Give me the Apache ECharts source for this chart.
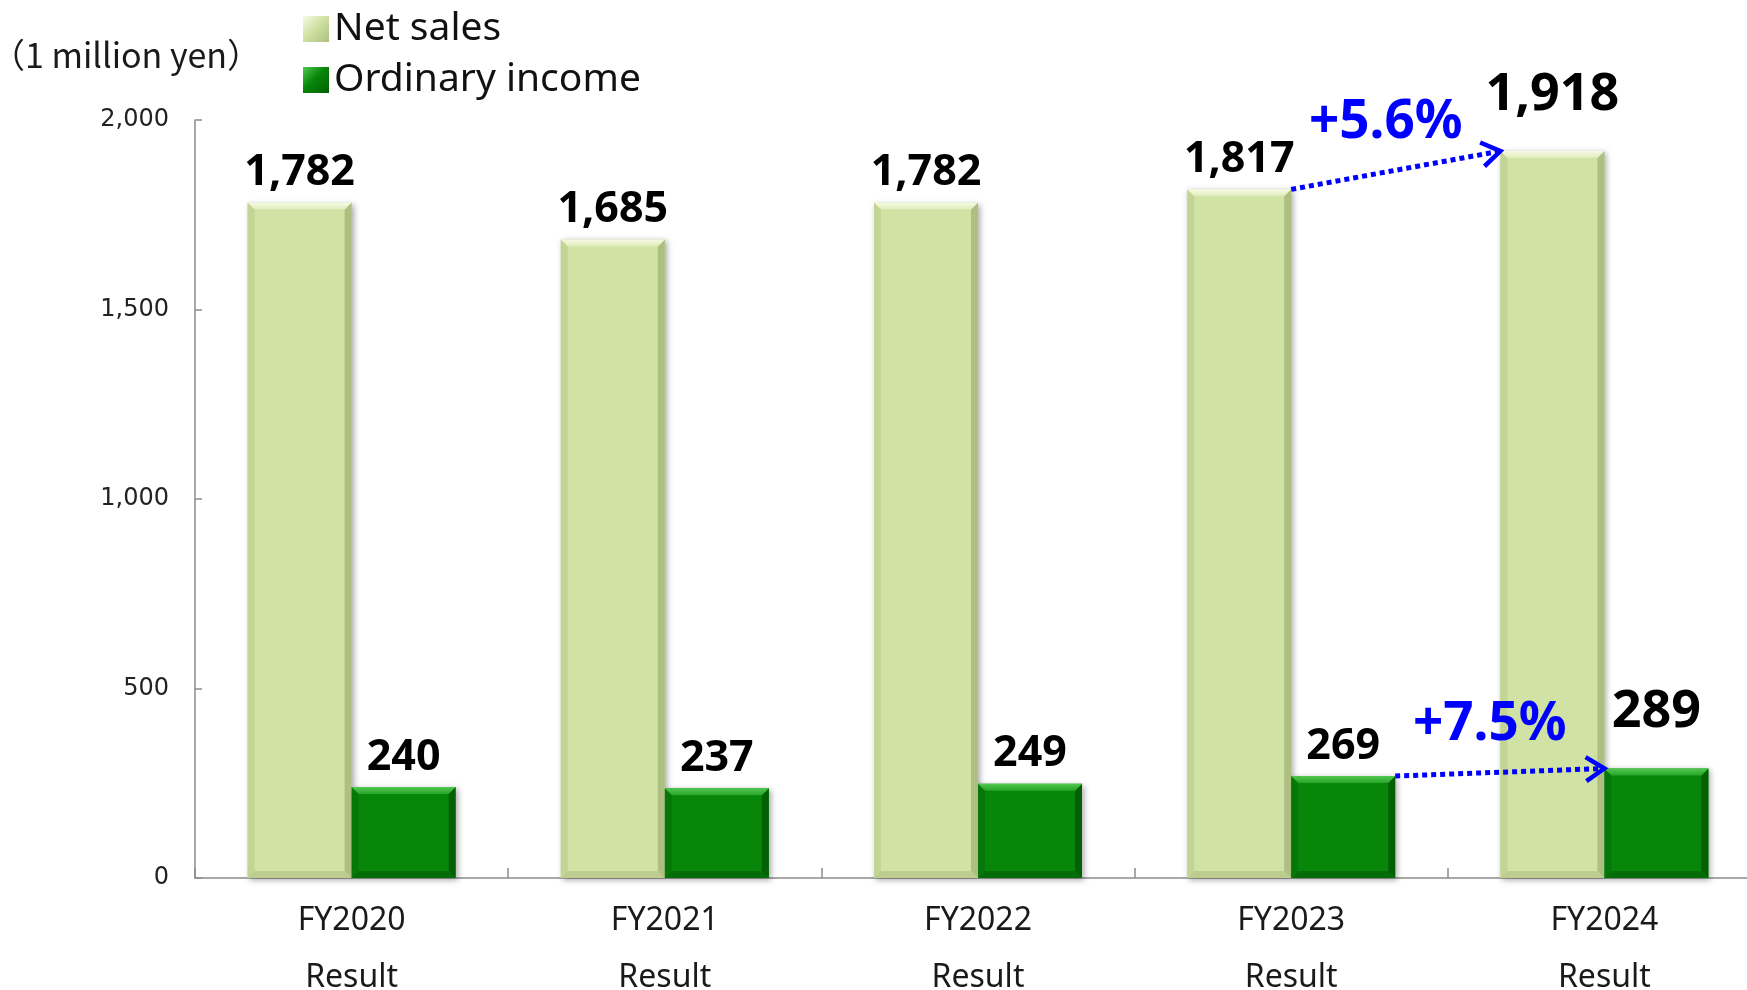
<!DOCTYPE html>
<html>
<head>
<meta charset="utf-8">
<script src="https://cdn.jsdelivr.net/npm/echarts@6/dist/echarts.min.js"></script>
<style>
html,body{margin:0;padding:0;background:#ffffff;}
#chart{width:1747px;height:990px;}
</style>
</head>
<body>
<div id="chart"></div>
<script>
// ---- data ----
const categories = ['FY2020', 'FY2021', 'FY2022', 'FY2023', 'FY2024'];
const categorySubLabel = 'Result';
const netSales = [1782, 1685, 1782, 1817, 1918];
const ordinaryIncome = [240, 237, 249, 269, 289];
const seriesNames = ['Net sales', 'Ordinary income'];
const unitLabel = '（1 million yen）';
const yMin = 0, yMax = 2000, yInterval = 500;
const emphasizedIndex = 4;
const growthFrom = [3, 3];
const growthTo = [4, 4];
const growthSeries = [0, 1];          // 0 = Net sales, 1 = Ordinary income
const growthText = ['+5.6%', '+7.5%'];

// ---- style ----
const BAR_RATIO = 0.332;
const FONT = '"Noto Sans", sans-serif';
const LIGHT = { main: '#d1e2a5', top0: '#f6fae6', top1: '#dfecb8', left: '#c2d595', right: '#aebf82', bottom: '#bccd8f' };
const DARK = { main: '#07860a', top0: '#52c852', top1: '#27a527', left: '#06780a', right: '#046004', bottom: '#056d07' };
const BLUE = '#0000ff';

const chart = echarts.init(document.getElementById('chart'), null, { renderer: 'canvas' });

function labelFor(i) {
  return i === emphasizedIndex
    ? { fontSize: 52, lineHeight: 52, distance: 30 }
    : { fontSize: 43, lineHeight: 43, distance: 8 };
}

const salesData = netSales.map((v, i) => ({ value: v, label: labelFor(i) }));
const incomeData = ordinaryIncome.map((v, i) => ({ value: v, label: labelFor(i) }));
const bevelData = categories.map((c, i) => [i, netSales[i], ordinaryIncome[i]]);
const growthData = growthText.map((t, k) => {
  const src = growthSeries[k] === 0 ? netSales : ordinaryIncome;
  return [growthFrom[k], src[growthFrom[k]], growthTo[k], src[growthTo[k]], growthSeries[k]];
});

function poly(points, fill) {
  return { type: 'polygon', shape: { points: points }, style: { fill: fill }, silent: true };
}

function renderBevel(params, api) {
  const idx = api.value(0);
  const base = api.coord([idx, 0]);
  const bw = api.size([1, 0])[0] * BAR_RATIO;
  const cx = base[0], yb = base[1];
  const children = [];
  const bars = [[api.value(1), cx - bw, LIGHT], [api.value(2), cx, DARK]];
  bars.forEach(function (b) {
    const yt = api.coord([idx, b[0]])[1];
    const x0 = b[1], x1 = b[1] + bw, p = b[2], s = 7;
    children.push(poly([[x0, yt], [x0 + s, yt + s], [x0 + s, yb - s], [x0, yb]], p.left));
    children.push(poly([[x1, yt], [x1 - s, yt + s], [x1 - s, yb - s], [x1, yb]], p.right));
    children.push(poly([[x0, yb], [x0 + s, yb - s], [x1 - s, yb - s], [x1, yb]], p.bottom));
    children.push(poly([[x0, yt], [x1, yt], [x1 - s, yt + s], [x0 + s, yt + s]],
      new echarts.graphic.LinearGradient(0, 0, 0, 1, [{ offset: 0, color: p.top0 }, { offset: 1, color: p.top1 }])));
  });
  return { type: 'group', children: children };
}

function renderGrowth(params, api) {
  const bw = api.size([1, 0])[0] * BAR_RATIO;
  const which = api.value(4);
  const a = api.coord([api.value(0), api.value(1)]);
  const b = api.coord([api.value(2), api.value(3)]);
  const start = [a[0] + (which === 0 ? 0 : bw), a[1]];
  const end = [b[0] - (which === 0 ? bw : 0), b[1]];
  const ang = Math.atan2(end[1] - start[1], end[0] - start[0]);
  const armLen = 22, armAng = 0.58;
  const p1 = [end[0] - armLen * Math.cos(ang - armAng), end[1] - armLen * Math.sin(ang - armAng)];
  const p2 = [end[0] - armLen * Math.cos(ang + armAng), end[1] - armLen * Math.sin(ang + armAng)];
  const lineEnd = [end[0] - 3 * Math.cos(ang), end[1] - 3 * Math.sin(ang)];
  const mid = [(start[0] + end[0]) / 2, (start[1] + end[1]) / 2];
  return {
    type: 'group',
    children: [
      { type: 'line', shape: { x1: start[0], y1: start[1], x2: lineEnd[0], y2: lineEnd[1] },
        style: { stroke: BLUE, lineWidth: 5, lineDash: [5, 4] } },
      { type: 'polyline', shape: { points: [p1, end, p2] },
        style: { stroke: BLUE, lineWidth: 4.5, fill: null, lineJoin: 'miter' } },
      { type: 'text', x: mid[0] - 10, y: mid[1] - 47,
        style: { text: growthText[params.dataIndex], fill: BLUE, fontSize: 53, fontWeight: 'bold',
          fontFamily: FONT, align: 'center', verticalAlign: 'middle' } }
    ]
  };
}

function legendIcon(p) {
  return new echarts.graphic.LinearGradient(0, 0, 1, 1, [
    { offset: 0, color: p.top0 }, { offset: 0.45, color: p.main }, { offset: 1, color: p.right }]);
}

const option = {
  backgroundColor: '#ffffff',
  animation: false,
  title: {
    text: unitLabel, left: -14, top: 30,
    textStyle: { fontFamily: '"Noto Sans CJK JP", "Noto Sans", sans-serif', fontSize: 34, fontWeight: 'normal', color: '#1a1a1a', lineHeight: 40 }
  },
  legend: {
    data: [
      { name: seriesNames[0], itemStyle: { color: legendIcon(LIGHT) } },
      { name: seriesNames[1], itemStyle: { color: legendIcon(DARK) } }
    ],
    orient: 'vertical', left: 298, top: 4,
    itemWidth: 26, itemHeight: 26, itemGap: 11,
    icon: 'rect',
    textStyle: { fontFamily: FONT, fontSize: 39, lineHeight: 40, color: '#111111', padding: [0, 0, 0, 0] }
  },
  grid: { left: 195, right: -14, top: 120, bottom: 112, containLabel: false, outerBoundsMode: 'none' },
  xAxis: {
    type: 'category', data: categories, boundaryGap: true,
    axisLine: { show: true, lineStyle: { color: '#8c8c8c', width: 1.5 } },
    axisTick: { show: true, inside: true, length: 10, alignWithLabel: false, interval: 0, lineStyle: { color: '#8c8c8c', width: 1.5 } },
    axisLabel: {
      interval: 0, margin: 14, color: '#1a1a1a', fontFamily: FONT, fontSize: 32, lineHeight: 57,
      formatter: function (v) { return v + '\n' + categorySubLabel; }
    },
    splitLine: { show: false }
  },
  yAxis: {
    type: 'value', min: yMin, max: yMax, interval: yInterval,
    axisLine: { show: true, lineStyle: { color: '#8c8c8c', width: 1.5 } },
    axisTick: { show: true, inside: true, length: 7, lineStyle: { color: '#8c8c8c', width: 1.5 } },
    axisLabel: {
      margin: 26, color: '#222222', fontFamily: '"DejaVu Sans", sans-serif', fontSize: 24,
      formatter: function (v) { return v.toLocaleString('en-US'); }
    },
    splitLine: { show: false }
  },
  series: [
    {
      name: seriesNames[0], type: 'bar', data: salesData,
      barWidth: (BAR_RATIO * 100) + '%', barGap: '0%', z: 2,
      itemStyle: { color: LIGHT.main, shadowColor: 'rgba(0,0,0,0.35)', shadowBlur: 6, shadowOffsetX: 2, shadowOffsetY: 2 },
      label: { show: true, position: 'top', color: '#000000', fontFamily: FONT, fontWeight: 'bold',
        formatter: function (p) { return p.value.toLocaleString('en-US'); } }
    },
    {
      name: seriesNames[1], type: 'bar', data: incomeData,
      barWidth: (BAR_RATIO * 100) + '%', barGap: '0%', z: 2,
      itemStyle: { color: DARK.main, shadowColor: 'rgba(0,0,0,0.35)', shadowBlur: 6, shadowOffsetX: 2, shadowOffsetY: 2 },
      label: { show: true, position: 'top', color: '#000000', fontFamily: FONT, fontWeight: 'bold',
        formatter: function (p) { return p.value.toLocaleString('en-US'); } }
    },
    {
      name: 'bevel', type: 'custom', data: bevelData, renderItem: renderBevel,
      encode: { x: 0, y: [1, 2] }, z: 3, silent: true, tooltip: { show: false }
    },
    {
      name: 'growth', type: 'custom', data: growthData, renderItem: renderGrowth,
      encode: { x: [0, 2], y: [1, 3] }, z: 4, silent: true, clip: false
    }
  ]
};

chart.setOption(option);
</script>
</body>
</html>
